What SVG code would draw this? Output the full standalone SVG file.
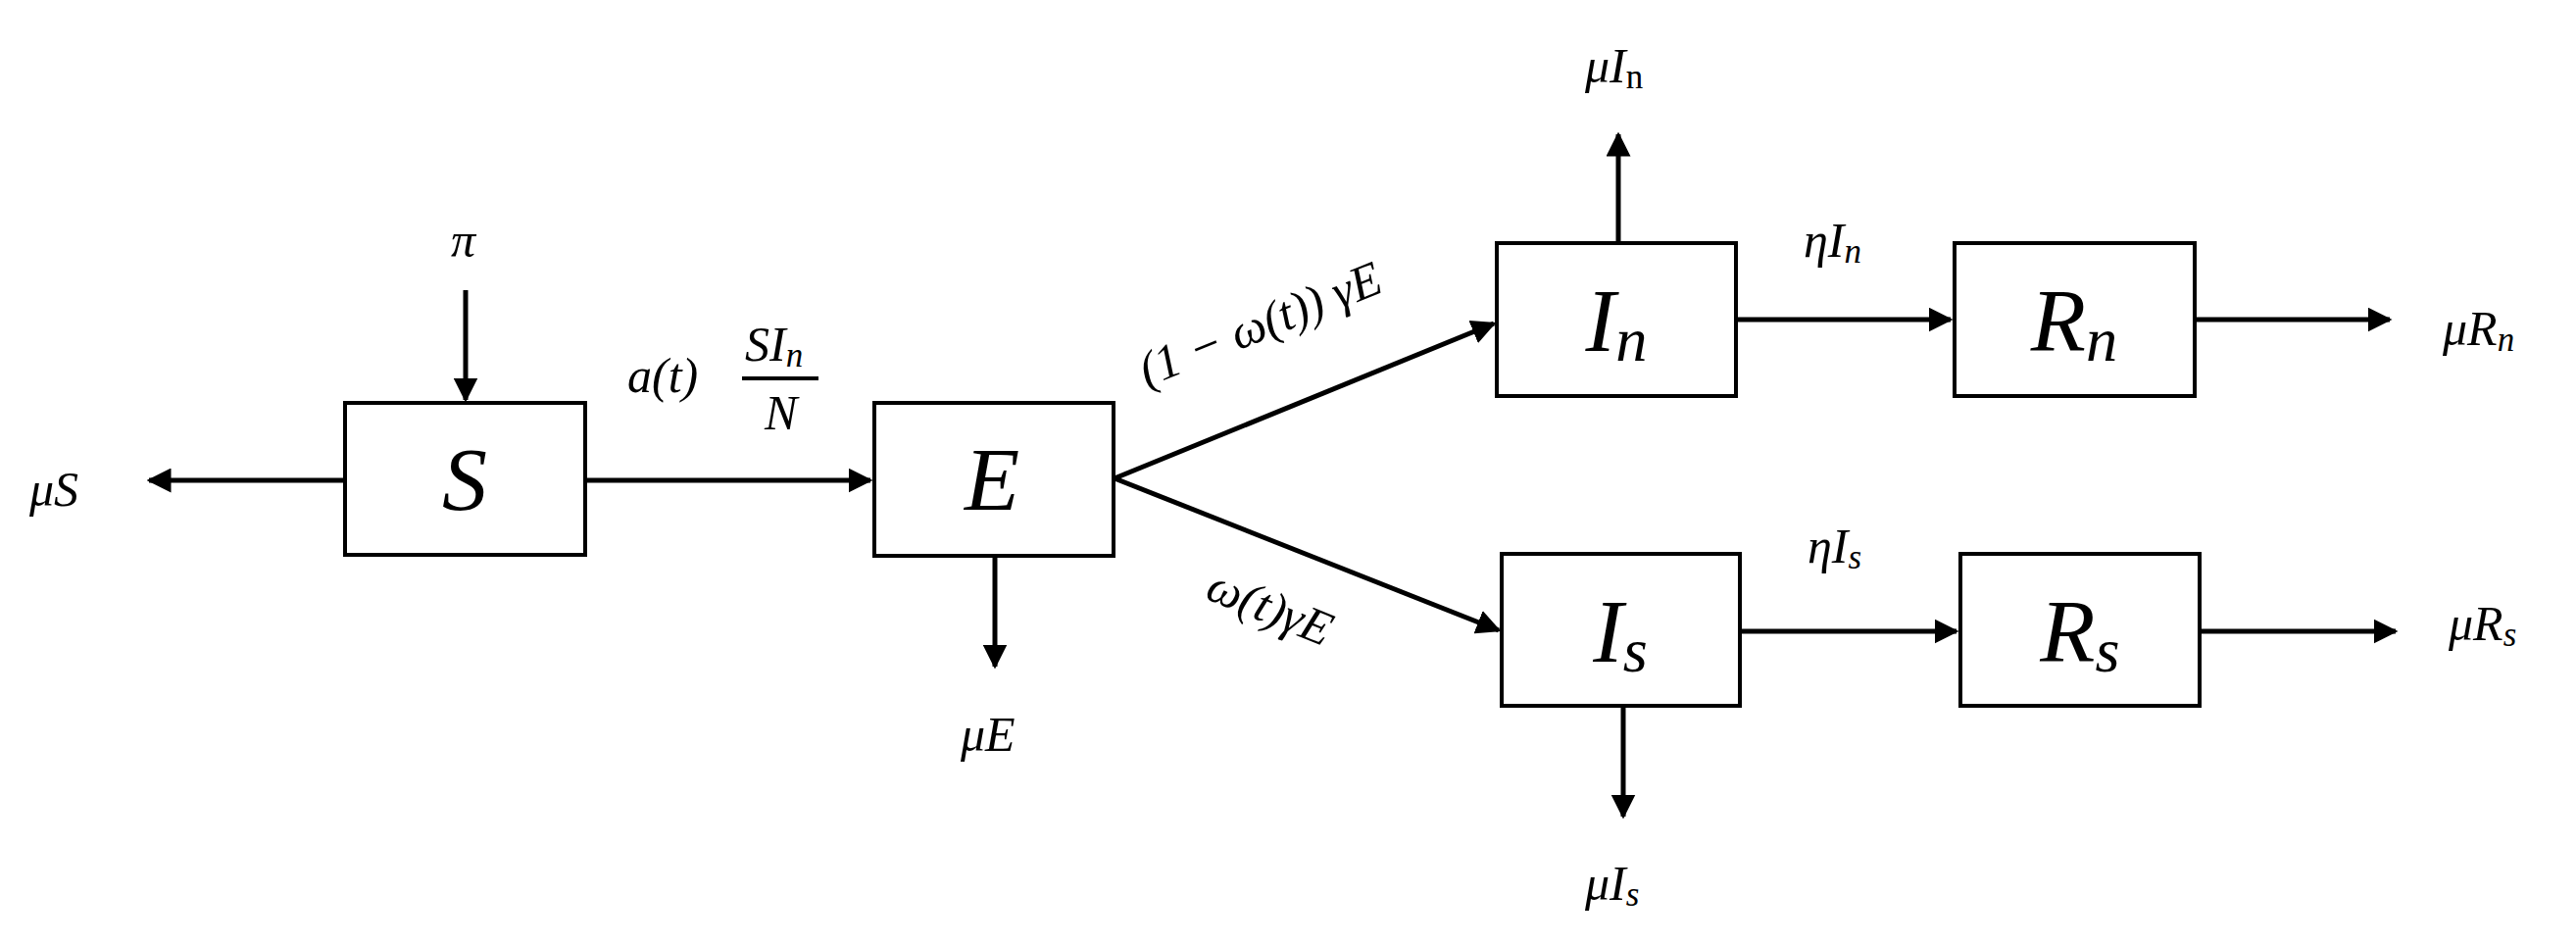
<svg xmlns="http://www.w3.org/2000/svg" width="2628" height="963" viewBox="0 0 2628 963">
<style>
.box{fill:#fff;stroke:#000;stroke-width:4}
.c{stroke:#000;stroke-width:5;fill:none;marker-end:url(#ah)}
text{font-family:"Liberation Serif","DejaVu Serif",serif;font-style:italic;fill:#000}
.big{font-size:92px;text-anchor:middle}
.lb{font-size:50px}
.sub{font-size:0.7em}
</style>
<defs><marker id="ah" markerWidth="5" markerHeight="5" refX="4.5" refY="2.5" orient="auto" markerUnits="strokeWidth"><path d="M0,0 L5,2.5 L0,5 z" fill="#000"/></marker></defs>
<rect width="2628" height="963" fill="#fff"/>
<g id="connectors">
<line class="c" x1="475" y1="296" x2="475" y2="408"/>
<line class="c" x1="352" y1="490" x2="152" y2="490"/>
<line class="c" x1="597" y1="490" x2="888" y2="490"/>
<line class="c" x1="1015" y1="567" x2="1015" y2="680"/>
<line class="c" x1="1137" y1="488" x2="1524" y2="330"/>
<line class="c" x1="1137" y1="488" x2="1529" y2="643"/>
<line class="c" x1="1651" y1="248" x2="1651" y2="137"/>
<line class="c" x1="1656" y1="720" x2="1656" y2="833"/>
<line class="c" x1="1771" y1="326" x2="1990" y2="326"/>
<line class="c" x1="1775" y1="644" x2="1996" y2="644"/>
<line class="c" x1="2239" y1="326" x2="2438" y2="326"/>
<line class="c" x1="2244" y1="644" x2="2444" y2="644"/>
</g>
<g id="S"><rect class="box" x="352" y="411" width="245" height="155"/><text class="big" x="474" y="520">S</text></g>
<g id="E"><rect class="box" x="892" y="411" width="244" height="156"/><text class="big" x="1012" y="520">E</text></g>
<g id="In"><rect class="box" x="1527" y="248" width="244" height="156"/><text class="big" x="1649" y="358">I<tspan class="sub" dy="10">n</tspan></text></g>
<g id="Rn"><rect class="box" x="1994" y="248" width="245" height="156"/><text class="big" x="2116" y="358">R<tspan class="sub" dy="10">n</tspan></text></g>
<g id="Is"><rect class="box" x="1532" y="565" width="243" height="155"/><text class="big" x="1653" y="675">I<tspan class="sub" dy="10">s</tspan></text></g>
<g id="Rs"><rect class="box" x="2000" y="565" width="244" height="155"/><text class="big" x="2122" y="675">R<tspan class="sub" dy="10">s</tspan></text></g>
<g id="labels">
<text class="lb" x="460" y="262">π</text>
<text class="lb" x="30" y="516">μS</text>
<text class="lb" x="980" y="766">μE</text>
<text class="lb" x="640" y="400">a(t)</text>
<line x1="757" y1="386" x2="835" y2="386" stroke="#000" stroke-width="4"/>
<text class="lb" x="760" y="368">SI<tspan class="sub" dy="6">n</tspan></text>
<text class="lb" x="780" y="438">N</text>
<text class="lb" transform="translate(1170,395) rotate(-22)">(1 − ω(t)) γE</text>
<text class="lb" transform="translate(1228,610) rotate(22)">ω(t)γE</text>
<text class="lb" x="1617" y="84">μI<tspan class="sub" dy="6" style="font-style:normal">n</tspan></text>
<text class="lb" x="1617" y="918">μI<tspan class="sub" dy="6">s</tspan></text>
<text class="lb" x="1840" y="262">ηI<tspan class="sub" dy="6">n</tspan></text>
<text class="lb" x="1844" y="574">ηI<tspan class="sub" dy="6">s</tspan></text>
<text class="lb" x="2492" y="352">μR<tspan class="sub" dy="6">n</tspan></text>
<text class="lb" x="2498" y="653">μR<tspan class="sub" dy="6">s</tspan></text>
</g>
</svg>
